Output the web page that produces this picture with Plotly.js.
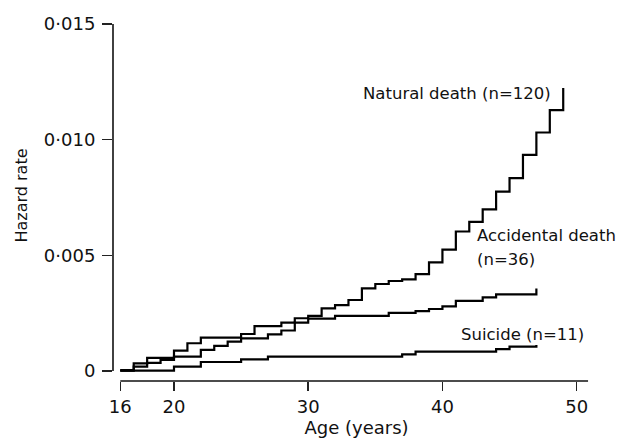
<!DOCTYPE html>
<html>
<head>
<meta charset="utf-8">
<script src="https://cdn.plot.ly/plotly-3.0.1.min.js"></script>
<style>html,body{margin:0;padding:0;background:#fff}#chart{width:619px;height:441px}</style>
</head>
<body>
<div id="chart"></div>
<script>
// Natural death (n=120)
const naturalAge = [16,17,18,20,21,22,25,26,28,29,30,31,32,33,34,35,36,37,38,39,40,41,42,43,44,45,46,47,48,49];
const naturalHazard = [0.00004,0.00033,0.00057,0.00088,0.0012,0.00144,0.0016,0.00194,0.00209,0.00228,0.00238,0.00271,0.00285,0.00307,0.00357,0.00376,0.00389,0.00396,0.00419,0.0047,0.00525,0.00603,0.00645,0.00699,0.00775,0.00834,0.00934,0.01031,0.01128,0.01223];
// Accidental death (n=36)
const accidentAge = [16,17,18,19,20,22,23,24,25,27,28,29,30,32,36,38,39,40,41,43,44,47];
const accidentHazard = [0.00002,0.00019,0.00035,0.00048,0.00062,0.00091,0.00109,0.00127,0.00141,0.00158,0.00175,0.00209,0.00226,0.00238,0.00251,0.00259,0.00268,0.00279,0.00303,0.00318,0.00331,0.00357];
// Suicide (n=11)
const suicideAge = [16,20,22,25,27,37,38,44,45,47];
const suicideHazard = [0.00002,0.00019,0.00039,0.0005,0.00062,0.00072,0.00084,0.00095,0.00105,0.00112];

const xTicks = [16,20,30,40,50];
const yTicks = [0,0.005,0.010,0.015];
const yTickText = ["0","0·005","0·010","0·015"];

const labels = ["Natural death (n=120)","Accidental death","(n=36)","Suicide (n=11)"];

const FONT = "DejaVu Sans";
const lineStyle = {color:"#000", width:2.2, shape:"hv"};

const traces = [
  {x:naturalAge, y:naturalHazard, type:"scatter", mode:"lines", line:lineStyle, name:"Natural death", hoverinfo:"skip"},
  {x:accidentAge, y:accidentHazard, type:"scatter", mode:"lines", line:lineStyle, name:"Accidental death", hoverinfo:"skip"},
  {x:suicideAge, y:suicideHazard, type:"scatter", mode:"lines", line:lineStyle, name:"Suicide", hoverinfo:"skip"}
];

const layout = {
  width:619, height:441,
  margin:{l:113, r:19, t:10, b:60},
  paper_bgcolor:"#fff", plot_bgcolor:"#fff",
  showlegend:false,
  font:{family:FONT, color:"#111", size:16},
  xaxis:{
    range:[15.456, 51.74],
    tickmode:"array", tickvals:xTicks, ticktext:xTicks.map(String),
    ticks:"outside", ticklen:9, tickwidth:1.5, tickcolor:"#222",
    showline:false, showgrid:false, zeroline:false,
    tickfont:{family:FONT, size:18, color:"#111"},
    title:{text:"Age (years)", font:{family:FONT, size:18, color:"#111"}, standoff:5}
  },
  yaxis:{
    range:[-0.000432, 0.015605],
    tickmode:"array", tickvals:yTicks, ticktext:yTickText,
    ticks:"outside", ticklen:10, tickwidth:1.5, tickcolor:"#222",
    showline:false, showgrid:false, zeroline:false,
    tickfont:{family:FONT, size:18, color:"#111"},
    ticklabelstandoff:3,
    title:{text:"Hazard rate", font:{family:FONT, size:16, color:"#111"}, standoff:12}
  },
  shapes:[
    {type:"line", xref:"paper", x0:0, x1:0, yref:"y", y0:yTicks[0], y1:yTicks[yTicks.length-1], line:{color:"#111", width:1.6}},
    {type:"line", xref:"x", x0:xTicks[0], x1:50.85, yref:"paper", y0:0, y1:0, line:{color:"#111", width:1.6}}
  ],
  annotations:[
    {text:labels[0], xref:"x", yref:"y", x:48.24, y:0.0120, xanchor:"right", yanchor:"middle", showarrow:false, font:{family:FONT, size:16.5, color:"#111"}},
    {text:labels[1], xref:"x", yref:"y", x:42.43, y:0.00584, xanchor:"left", yanchor:"middle", showarrow:false, font:{family:FONT, size:16.5, color:"#111"}},
    {text:labels[2], xref:"x", yref:"y", x:42.43, y:0.00483, xanchor:"left", yanchor:"middle", showarrow:false, font:{family:FONT, size:16.5, color:"#111"}},
    {text:labels[3], xref:"x", yref:"y", x:41.26, y:0.00156, xanchor:"left", yanchor:"middle", showarrow:false, font:{family:FONT, size:16.5, color:"#111"}}
  ]
};

Plotly.newPlot("chart", traces, layout, {staticPlot:true, displayModeBar:false});
</script>
</body>
</html>
